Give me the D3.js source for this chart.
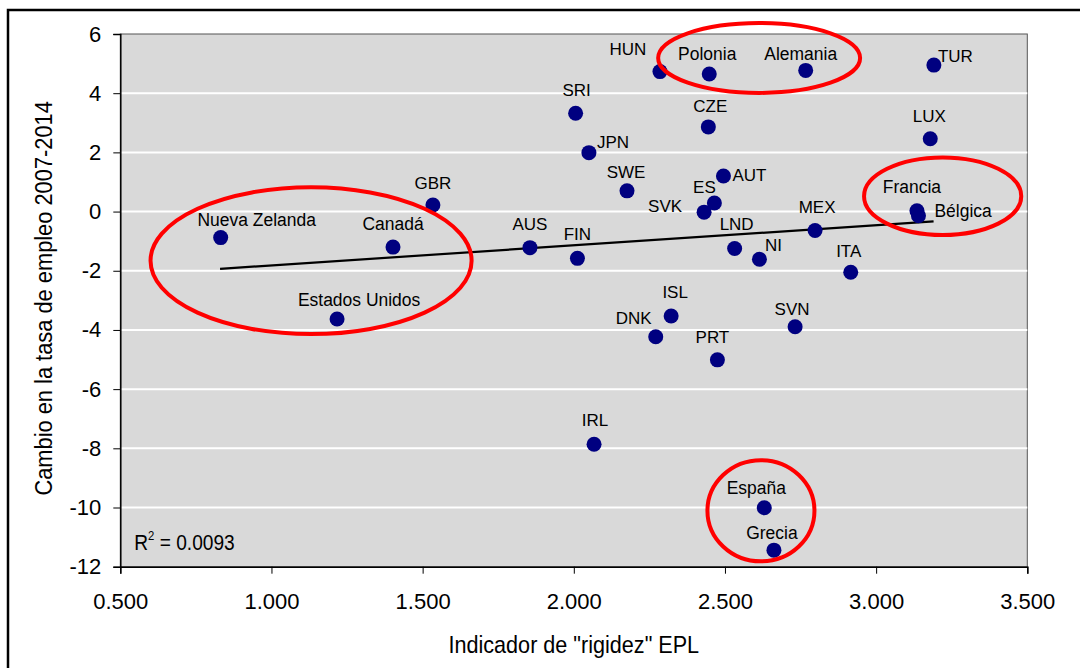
<!DOCTYPE html>
<html>
<head>
<meta charset="utf-8">
<script src="https://cdn.jsdelivr.net/npm/d3@7"></script>
<style>
  body { margin: 0; background: #fff; }
  svg text { font-family: "Liberation Sans", Arial, sans-serif; fill: #000; }
</style>
</head>
<body>
<div id="chart-area"></div>
<script>
/* Data */
var countries = ["Nueva Zelanda", "Canadá", "Estados Unidos", "GBR", "AUS", "FIN", "SRI", "HUN",
  "Polonia", "Alemania", "CZE", "JPN", "SWE", "AUT", "ES", "SVK", "LND", "NI", "MEX", "ITA",
  "ISL", "DNK", "SVN", "PRT", "IRL", "España", "Grecia", "TUR", "LUX", "Francia", "Bélgica"];
var eplIndex = [0.832, 1.402, 1.217, 1.534, 1.855, 2.012, 2.006, 2.285,
  2.448, 2.767, 2.445, 2.050, 2.176, 2.495, 2.465, 2.431, 2.532, 2.614, 2.798, 2.916,
  2.322, 2.271, 2.732, 2.475, 2.067, 2.630, 2.662, 3.191, 3.179, 3.135, 3.140];
var employmentChange = [-0.88, -1.20, -3.63, 0.22, -1.22, -1.58, 3.32, 4.73,
  4.65, 4.77, 2.86, 1.99, 0.70, 1.20, 0.29, -0.02, -1.25, -1.61, -0.64, -2.05,
  -3.53, -4.23, -3.89, -5.01, -7.86, -10.01, -11.44, 4.95, 2.46, 0.03, -0.14];

var xTicks = [0.5, 1.0, 1.5, 2.0, 2.5, 3.0, 3.5];
var yTicks = [-12, -10, -8, -6, -4, -2, 0, 2, 4, 6];

// fitted line shown in the picture
var trendFrom = 0.83, trendTo = 3.19;
var trendIntercept = -2.50, trendSlope = 0.68;
var rSquared = "0.0093";

var narrowNames = ["Nueva Zelanda", "Canadá", "Estados Unidos", "Polonia", "Alemania",
  "Francia", "Bélgica", "España", "Grecia"];

/* Label placement (pixels from the dot) */
var labelOffset = {
  "Nueva Zelanda": [36, -12, "middle"], "Canadá": [0, -17, "middle"], "Estados Unidos": [22, -13, "middle"],
  "GBR": [0, -16, "middle"], "AUS": [0, -18, "middle"], "FIN": [0, -18, "middle"], "SRI": [1, -17, "middle"],
  "HUN": [-32, -17, "middle"], "Polonia": [-2, -14, "middle"], "Alemania": [-5, -10, "middle"],
  "CZE": [2, -15, "middle"], "JPN": [8, -5, "start"], "SWE": [-1, -13, "middle"], "AUT": [9, 5, "start"],
  "ES": [-10, -10, "middle"], "SVK": [-39, 0, "middle"], "LND": [2, -19, "middle"], "NI": [14, -8, "middle"],
  "MEX": [2, -18, "middle"], "ITA": [-2, -15, "middle"], "ISL": [4, -18, "middle"], "DNK": [-22, -13, "middle"],
  "SVN": [-3, -12, "middle"], "PRT": [-5, -17, "middle"], "IRL": [1, -18, "middle"], "España": [-8, -14, "middle"],
  "Grecia": [-2, -11, "middle"], "TUR": [4, -3, "start"], "LUX": [-1, -17, "middle"],
  "Francia": [-5, -18, "middle"], "Bélgica": [16, 1, "start"]
};

/* Red highlight ellipses, in data units */
var highlights = [
  { cx: 1.131, cy: -1.66, rx: 0.531, ry: 2.48 },
  { cx: 2.613, cy: 5.19, rx: 0.334, ry: 1.18 },
  { cx: 3.220, cy: 0.52, rx: 0.260, ry: 1.31 },
  { cx: 2.619, cy: -10.11, rx: 0.177, ry: 1.71 }
];

var margin = { left: 120.3, top: 34, right: 52.7, bottom: 101.3 };
var W = 1080, H = 668;
var width = W - margin.left - margin.right;
var height = H - margin.top - margin.bottom;

var svg = d3.select("#chart-area").append("svg")
  .attr("width", W)
  .attr("height", H);

// outer frame
svg.append("rect")
  .attr("x", 8).attr("y", 10)
  .attr("width", 1200).attr("height", 800)
  .attr("fill", "none").attr("stroke", "#000").attr("stroke-width", 2.5);

var g = svg.append("g")
  .attr("transform", "translate(" + margin.left + "," + margin.top + ")");

var x = d3.scaleLinear().domain([0.5, 3.5]).range([0, width]);
var y = d3.scaleLinear().domain([-12, 6]).range([height, 0]);

g.append("rect")
  .attr("width", width).attr("height", height)
  .attr("fill", "#d9d9d9").attr("stroke", "#555").attr("stroke-width", 1);

// gridlines
g.selectAll(".grid")
  .data(yTicks.filter(function (d) { return d > -12 && d < 6; }))
  .enter().append("line")
    .attr("x1", 0).attr("x2", width)
    .attr("y1", function (d) { return y(d); })
    .attr("y2", function (d) { return y(d); })
    .attr("stroke", "#fff").attr("stroke-width", 2);

// axes
var xAxisCall = d3.axisBottom(x).tickValues(xTicks).tickSize(7).tickPadding(20)
  .tickFormat(d3.format(".3f"));
var xg = g.append("g")
  .attr("transform", "translate(0," + height + ")")
  .call(xAxisCall);
xg.select(".domain").attr("stroke", "#000").attr("stroke-width", 1.5);
xg.selectAll("text").attr("font-size", "22px");

var yAxisCall = d3.axisLeft(y).tickValues(yTicks).tickSize(7).tickPadding(12)
  .tickFormat(function (d) { return String(d); });
var yg = g.append("g").call(yAxisCall);
yg.select(".domain").attr("stroke", "#000").attr("stroke-width", 1.5);
yg.selectAll("text").attr("font-size", "22px");

// trend line
g.append("line")
  .attr("x1", x(trendFrom)).attr("y1", y(trendIntercept + trendSlope * trendFrom))
  .attr("x2", x(trendTo)).attr("y2", y(trendIntercept + trendSlope * trendTo))
  .attr("stroke", "#000").attr("stroke-width", 2.2);

var points = countries.map(function (c, i) {
  return { name: c, epl: eplIndex[i], change: employmentChange[i] };
});

g.selectAll(".dot")
  .data(points)
  .enter().append("circle")
    .attr("cx", function (d) { return x(d.epl); })
    .attr("cy", function (d) { return y(d.change); })
    .attr("r", 7.5)
    .attr("fill", "#000080");

// labels: codes in plain type, names in a squeezed (narrow) type
g.selectAll(".lbl")
  .data(points)
  .enter().append("text")
    .attr("transform", function (d) {
      var o = labelOffset[d.name];
      var t = "translate(" + (x(d.epl) + o[0]) + "," + (y(d.change) + o[1]) + ")";
      return narrowNames.indexOf(d.name) >= 0 ? t + " scale(0.92,1)" : t;
    })
    .attr("text-anchor", function (d) { return labelOffset[d.name][2]; })
    .attr("font-size", function (d) { return narrowNames.indexOf(d.name) >= 0 ? "19px" : "17px"; })
    .text(function (d) { return d.name; });

// highlight ellipses
g.selectAll(".hl")
  .data(highlights)
  .enter().append("ellipse")
    .attr("cx", function (d) { return x(d.cx); })
    .attr("cy", function (d) { return y(d.cy); })
    .attr("rx", function (d) { return x(d.cx + d.rx) - x(d.cx); })
    .attr("ry", function (d) { return y(d.cy - d.ry) - y(d.cy); })
    .attr("fill", "none").attr("stroke", "#ff0000").attr("stroke-width", 4);

// R squared
var r2 = g.append("text")
  .attr("transform", "translate(14," + (height - 17) + ") scale(0.87,1)")
  .attr("font-size", "22px");
r2.append("tspan").text("R");
r2.append("tspan").attr("dy", -10).attr("font-size", "13px").text("2");
r2.append("tspan").attr("dy", 10).text(" = " + rSquared);

// axis labels
g.append("text")
  .attr("transform", "translate(" + (width / 2) + "," + (652.7 - margin.top) + ") scale(0.9,1)")
  .attr("font-size", "24px")
  .attr("text-anchor", "middle")
  .text("Indicador de \"rigidez\" EPL");

g.append("text")
  .attr("transform", "translate(" + (52 - margin.left) + "," + (height / 2 - 2) + ") rotate(-90) scale(0.91,1)")
  .attr("font-size", "24px")
  .attr("text-anchor", "middle")
  .text("Cambio en la tasa de empleo 2007-2014");
</script>
</body>
</html>
